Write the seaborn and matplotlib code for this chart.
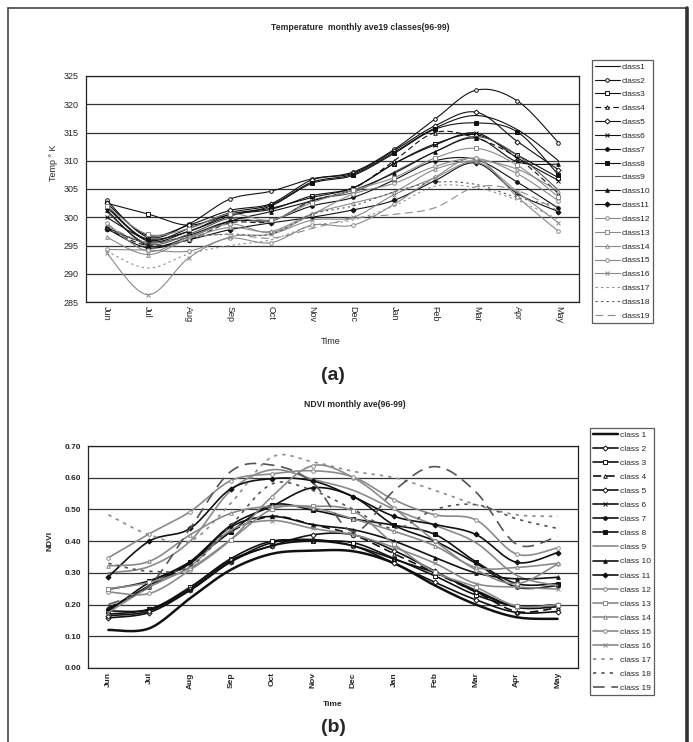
"""
Two stacked line charts: monthly temperature and NDVI averages (96-99)
for 19 classes, Excel-style smoothed lines.
"""
import numpy as np
import pandas as pd
import matplotlib
matplotlib.use("Agg")
import matplotlib.pyplot as plt
from matplotlib.lines import Line2D
import seaborn as sns


MONTHS = ["Jun", "Jul", "Aug", "Sep", "Oct", "Nov", "Dec", "Jan", "Feb", "Mar", "Apr", "May"]

# ---------------------------
# Temperature (deg K), Jun..May
# ---------------------------
TEMP_1 = [302.0, 296.0, 298.0, 300.8, 302.2, 306.2, 307.6, 311.5, 315.8, 318.0, 315.5, 310.0]
TEMP_2 = [303.0, 296.5, 298.8, 303.2, 304.6, 306.8, 308.0, 312.0, 317.4, 322.5, 320.6, 313.2]
TEMP_3 = [302.5, 300.6, 298.6, 300.5, 301.4, 303.8, 305.2, 309.5, 313.0, 314.6, 311.0, 307.0]
TEMP_4 = [298.0, 295.0, 296.0, 299.0, 299.3, 302.9, 305.0, 310.0, 315.0, 314.0, 310.5, 304.2]
TEMP_5 = [302.5, 296.8, 298.6, 301.2, 302.4, 306.6, 307.8, 311.8, 316.2, 318.6, 313.4, 308.4]
TEMP_6 = [300.0, 296.2, 297.5, 300.5, 301.6, 303.5, 305.2, 309.5, 312.8, 314.9, 310.5, 306.5]
TEMP_7 = [298.2, 295.5, 296.8, 299.3, 299.5, 302.0, 303.5, 306.6, 310.0, 310.2, 306.2, 301.6]
TEMP_8 = [301.8, 295.8, 297.5, 300.2, 302.0, 306.0, 307.4, 311.3, 315.6, 316.7, 315.1, 307.5]
TEMP_9 = [301.0, 295.3, 297.0, 299.8, 299.3, 303.0, 304.4, 308.0, 311.6, 314.3, 311.0, 304.8]
TEMP_10 = [301.3, 295.0, 296.5, 299.3, 301.0, 302.9, 304.8, 307.8, 311.6, 314.0, 309.8, 309.4]
TEMP_11 = [298.0, 294.6, 296.0, 297.8, 299.0, 300.0, 301.3, 303.0, 306.5, 309.6, 304.2, 301.0]
TEMP_12 = [299.0, 294.0, 296.5, 298.8, 297.3, 300.5, 304.1, 306.0, 309.0, 310.4, 307.7, 302.9]
TEMP_13 = [302.0, 297.0, 298.0, 300.6, 299.5, 302.6, 304.8, 307.0, 310.5, 312.2, 309.2, 303.6]
TEMP_14 = [296.5, 293.4, 296.2, 298.2, 297.5, 300.6, 302.5, 304.5, 308.5, 310.0, 308.5, 304.6]
TEMP_15 = [294.3, 294.2, 294.0, 296.3, 295.5, 298.6, 298.6, 302.3, 307.1, 310.4, 303.6, 297.5]
TEMP_16 = [293.7, 286.3, 292.8, 296.5, 297.0, 299.5, 300.0, 304.0, 307.0, 309.8, 304.5, 299.0]
TEMP_17 = [294.0, 291.0, 293.5, 295.0, 296.0, 298.5, 299.5, 302.0, 305.5, 305.2, 303.0, 299.6]
TEMP_18 = [298.0, 295.5, 296.5, 297.0, 297.0, 300.5, 302.0, 304.5, 306.2, 305.8, 303.5, 302.0]
TEMP_19 = [298.5, 295.5, 296.5, 297.0, 296.3, 298.0, 299.8, 300.5, 301.7, 305.4, 304.7, 301.1]

# ---------------------------
# NDVI, Jun..May
# ---------------------------
NDVI_1 = [0.120, 0.125, 0.220, 0.310, 0.360, 0.370, 0.368, 0.330, 0.260, 0.200, 0.160, 0.155]
NDVI_2 = [0.158, 0.175, 0.245, 0.335, 0.395, 0.405, 0.385, 0.330, 0.270, 0.215, 0.175, 0.178]
NDVI_3 = [0.180, 0.185, 0.255, 0.345, 0.400, 0.400, 0.395, 0.345, 0.290, 0.230, 0.195, 0.200]
NDVI_4 = [0.190, 0.255, 0.330, 0.430, 0.478, 0.452, 0.420, 0.360, 0.300, 0.240, 0.178, 0.190]
NDVI_5 = [0.165, 0.180, 0.250, 0.340, 0.385, 0.420, 0.420, 0.370, 0.305, 0.240, 0.195, 0.200]
NDVI_6 = [0.170, 0.185, 0.245, 0.335, 0.385, 0.400, 0.385, 0.343, 0.300, 0.245, 0.191, 0.193]
NDVI_7 = [0.185, 0.260, 0.335, 0.450, 0.510, 0.568, 0.540, 0.450, 0.400, 0.330, 0.255, 0.260]
NDVI_8 = [0.248, 0.275, 0.335, 0.430, 0.514, 0.498, 0.470, 0.450, 0.421, 0.335, 0.266, 0.266]
NDVI_9 = [0.300, 0.320, 0.400, 0.560, 0.625, 0.595, 0.560, 0.500, 0.450, 0.395, 0.292, 0.260]
NDVI_10 = [0.178, 0.270, 0.330, 0.445, 0.478, 0.452, 0.436, 0.400, 0.348, 0.300, 0.281, 0.286]
NDVI_11 = [0.288, 0.400, 0.440, 0.565, 0.597, 0.590, 0.540, 0.478, 0.452, 0.421, 0.333, 0.364]
NDVI_12 = [0.240, 0.235, 0.309, 0.405, 0.540, 0.638, 0.600, 0.504, 0.400, 0.310, 0.266, 0.328]
NDVI_13 = [0.250, 0.270, 0.315, 0.405, 0.500, 0.510, 0.495, 0.390, 0.302, 0.255, 0.195, 0.200]
NDVI_14 = [0.322, 0.336, 0.420, 0.488, 0.510, 0.505, 0.470, 0.431, 0.385, 0.317, 0.317, 0.330]
NDVI_15 = [0.348, 0.423, 0.493, 0.591, 0.612, 0.622, 0.602, 0.530, 0.483, 0.467, 0.359, 0.379]
NDVI_16 = [0.175, 0.255, 0.320, 0.435, 0.465, 0.440, 0.420, 0.380, 0.330, 0.266, 0.255, 0.249]
NDVI_17 = [0.483, 0.420, 0.400, 0.520, 0.665, 0.650, 0.620, 0.600, 0.560, 0.515, 0.483, 0.478]
NDVI_18 = [0.330, 0.305, 0.320, 0.450, 0.580, 0.560, 0.500, 0.440, 0.500, 0.515, 0.470, 0.440]
NDVI_19 = [0.200, 0.260, 0.440, 0.620, 0.640, 0.585, 0.430, 0.560, 0.635, 0.555, 0.390, 0.415]

TEMP = [TEMP_1, TEMP_2, TEMP_3, TEMP_4, TEMP_5, TEMP_6, TEMP_7, TEMP_8, TEMP_9, TEMP_10,
        TEMP_11, TEMP_12, TEMP_13, TEMP_14, TEMP_15, TEMP_16, TEMP_17, TEMP_18, TEMP_19]
NDVI = [NDVI_1, NDVI_2, NDVI_3, NDVI_4, NDVI_5, NDVI_6, NDVI_7, NDVI_8, NDVI_9, NDVI_10,
        NDVI_11, NDVI_12, NDVI_13, NDVI_14, NDVI_15, NDVI_16, NDVI_17, NDVI_18, NDVI_19]

TEMP_LABELS = [f"class{i}" for i in range(1, 20)]
NDVI_LABELS = [f"class {i}" for i in range(1, 20)]

BLK = "#111111"
GRY = "#8a8a8a"
DGR = "#555555"

# (color, linestyle, marker, marker face)
TEMP_STYLES = [
    (BLK, "-", None, None), (BLK, "-", "o", "white"), (BLK, "-", "s", "white"),
    (BLK, (0, (5, 3)), "^", "white"), (BLK, "-", "D", "white"), (BLK, "-", "x", None),
    (BLK, "-", "o", BLK), (BLK, "-", "s", BLK), (DGR, "-", None, None),
    (BLK, "-", "^", BLK), (BLK, "-", "D", BLK), (GRY, "-", "o", "white"),
    (GRY, "-", "s", "white"), (GRY, "-", "^", "white"), (GRY, "-", "o", "white"),
    (GRY, "-", "x", None), (GRY, (0, (2, 3)), None, None), (DGR, (0, (2, 3)), None, None),
    (GRY, (0, (7, 4)), None, None),
]
NDVI_STYLES = [
    (BLK, "-", None, None), (BLK, "-", "D", "white"), (BLK, "-", "s", "white"),
    (BLK, (0, (5, 3)), "^", "white"), (BLK, "-", "D", "white"), (BLK, "-", "x", None),
    (BLK, "-", "o", BLK), (BLK, "-", "s", BLK), (GRY, "-", None, None),
    (BLK, "-", "^", BLK), (BLK, "-", "D", BLK), (GRY, "-", "o", "white"),
    (GRY, "-", "s", "white"), (GRY, "-", "^", "white"), (GRY, "-", "o", "white"),
    (GRY, "-", "x", None), (GRY, (0, (2, 3)), None, None), (DGR, (0, (2, 3)), None, None),
    (DGR, (0, (7, 4)), None, None),
]


def smooth(x, y, n=16):
    # Excel-like smoothed line: cubic Bezier through the points
    pts = np.column_stack([x, y]).astype(float)
    P = np.vstack([pts[0], pts, pts[-1]])
    t = np.linspace(0, 1, n, endpoint=False)[:, None]
    segs = []
    for i in range(1, len(P) - 2):
        p0, p1, p2, p3 = P[i - 1], P[i], P[i + 1], P[i + 2]
        c1 = p1 + (p2 - p0) / 6
        c2 = p2 - (p3 - p1) / 6
        segs.append((1 - t) ** 3 * p1 + 3 * (1 - t) ** 2 * t * c1
                    + 3 * (1 - t) * t ** 2 * c2 + t ** 3 * p2)
    segs.append(pts[-1:])
    return np.vstack(segs)


def draw_panel(ax, series, labels, styles, lw, ms):
    x = np.arange(len(MONTHS))
    handles = []
    for vals, lab, (col, ls, mk, mfc) in zip(series, labels, styles):
        curve = smooth(x, vals)
        df = pd.DataFrame({"x": curve[:, 0], "y": curve[:, 1]})
        width = lw * 1.5 if (lab.replace(" ", "") == "class1" and lw > 1) else lw
        sns.lineplot(data=df, x="x", y="y", ax=ax, color=col, linewidth=width,
                     linestyle=ls, sort=False, estimator=None, legend=False)
        if mk:
            pts = pd.DataFrame({"x": x, "y": vals})
            ax.plot(pts["x"], pts["y"], linestyle="none", marker=mk, markersize=ms,
                    markerfacecolor=mfc if mfc else col, markeredgecolor=col,
                    markeredgewidth=0.7)
        handles.append(Line2D([], [], color=col, linestyle=ls, linewidth=width,
                              marker=mk, markersize=ms,
                              markerfacecolor=mfc if mfc else col,
                              markeredgecolor=col, markeredgewidth=0.7, label=lab))
    ax.set_xlim(-0.5, len(MONTHS) - 0.5)
    ax.set_xticks(x)
    ax.set_xticks(np.arange(-0.5, len(MONTHS)), minor=True)
    ax.tick_params(axis="x", which="major", length=0, pad=3)
    ax.tick_params(axis="x", which="minor", length=3.5, width=0.8, direction="out")
    ax.tick_params(axis="y", which="major", length=3, width=0.8, direction="out", pad=2)
    ax.grid(axis="y", color="#333333", linewidth=0.9)
    ax.grid(axis="x", visible=False)
    ax.set_axisbelow(True)
    for side in ["left", "bottom", "right", "top"]:
        ax.spines[side].set_visible(True)
        ax.spines[side].set_color("#222222")
        ax.spines[side].set_linewidth(0.9)
    ax.set_xlabel("")
    ax.set_ylabel("")
    return handles


def main():
    sns.set_style("white")
    plt.rcParams["font.family"] = ["Liberation Sans", "DejaVu Sans"]

    W, H = 693, 742
    fig = plt.figure(figsize=(W / 100, H / 100), dpi=100)

    def fx(px):
        return px / W

    def fy(py):
        return 1 - py / H

    # outer page frame
    fig.add_artist(Line2D([fx(8), fx(8)], [fy(8), 0], color="#444444", lw=1.2))
    fig.add_artist(Line2D([fx(8), fx(687)], [fy(8), fy(8)], color="#444444", lw=1.2))
    fig.add_artist(Line2D([fx(686.5), fx(686.5)], [fy(8), 0], color="#333333", lw=2.6))

    # ---------------------------
    # (a) temperature
    # ---------------------------
    ax1 = fig.add_axes([fx(86), fy(302), fx(579) - fx(86), fy(76) - fy(302)])
    h1 = draw_panel(ax1, TEMP, TEMP_LABELS, TEMP_STYLES, lw=0.8, ms=2.6)
    ax1.set_ylim(285, 325)
    ax1.set_yticks(np.arange(285, 326, 5))
    ax1.set_xticklabels(MONTHS, rotation=270, fontsize=6.5, va="top", ha="center")
    for lab in ax1.get_yticklabels():
        lab.set_fontsize(6.5)

    fig.text(fx(360), fy(27), "Temperature  monthly ave19 classes(96-99)",
             ha="center", va="center", fontsize=6.2, fontweight="bold")
    fig.text(fx(53), fy(163), "Temp ° K", rotation=90, ha="center", va="center", fontsize=6.5)
    fig.text(fx(331), fy(342), "Time", ha="center", va="center", fontsize=6.5)
    fig.text(fx(333), fy(376), "(a)", ha="center", va="center", fontsize=14, fontweight="bold")

    leg1 = fig.legend(handles=h1, loc="upper left", bbox_to_anchor=(fx(592), fy(60)),
                      fontsize=6, frameon=True, fancybox=False, edgecolor="#333333",
                      handlelength=3.0, handletextpad=0.2, borderpad=0.35,
                      labelspacing=0.72, borderaxespad=0)
    leg1.get_frame().set_linewidth(0.9)

    # ---------------------------
    # (b) NDVI
    # ---------------------------
    ax2 = fig.add_axes([fx(88), fy(668), fx(578) - fx(88), fy(446) - fy(668)])
    h2 = draw_panel(ax2, NDVI, NDVI_LABELS, NDVI_STYLES, lw=1.2, ms=2.6)
    ax2.set_ylim(0, 0.70)
    ax2.set_yticks(np.arange(0, 0.71, 0.1))
    ax2.set_yticklabels([f"{v:.2f}" for v in np.arange(0, 0.71, 0.1)],
                        fontsize=6, fontweight="bold")
    ax2.set_xticklabels(MONTHS, rotation=90, fontsize=6, fontweight="bold",
                        va="top", ha="center")

    fig.text(fx(355), fy(404), "NDVI monthly ave(96-99)", ha="center", va="center",
             fontsize=6.2, fontweight="bold")
    fig.text(fx(50), fy(541), "NDVI", rotation=90, ha="center", va="center",
             fontsize=6, fontweight="bold")
    fig.text(fx(333), fy(704), "Time", ha="center", va="center", fontsize=6,
             fontweight="bold")
    fig.text(fx(333), fy(728), "(b)", ha="center", va="center", fontsize=14,
             fontweight="bold")

    leg2 = fig.legend(handles=h2, loc="upper left", bbox_to_anchor=(fx(590), fy(428)),
                      fontsize=6, frameon=True, fancybox=False, edgecolor="#333333",
                      handlelength=3.0, handletextpad=0.2, borderpad=0.35,
                      labelspacing=0.75, borderaxespad=0)
    leg2.get_frame().set_linewidth(0.9)

    fig.savefig("out.png", dpi=100)
    plt.close(fig)


if __name__ == "__main__":
    main()
